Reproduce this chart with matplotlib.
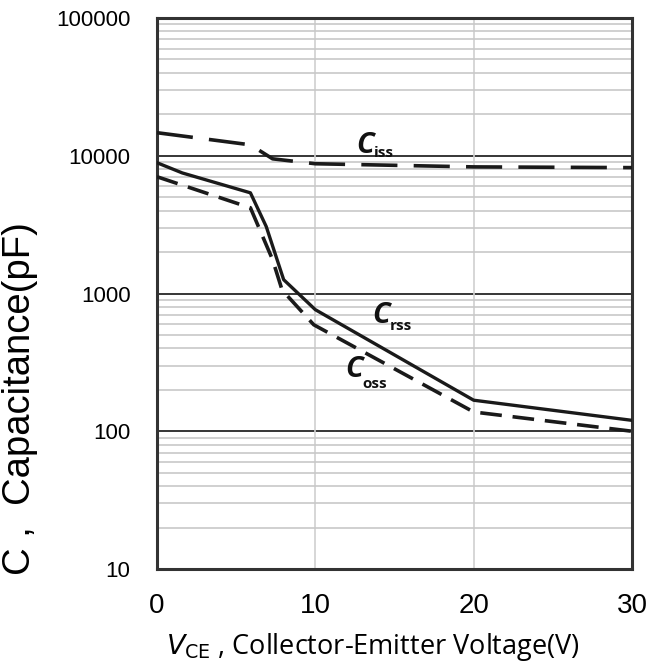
import matplotlib
matplotlib.use("Agg")
import matplotlib.pyplot as plt
from matplotlib.ticker import FixedLocator, LogLocator, NullFormatter

# Capacitance vs. collector-emitter voltage
vce_iss = [0, 5.9, 7.3, 10, 20, 30]
c_iss = [14700, 12000, 9500, 8750, 8300, 8200]

vce_rss = [0, 1.6, 5.9, 6.9, 8.0, 10, 20, 30]
c_rss = [8900, 7500, 5380, 3060, 1260, 763, 168, 120]

vce_oss = [0, 5.9, 7.3, 7.9, 9.9, 20, 30]
c_oss = [7040, 4190, 1760, 1060, 593, 138, 100]

x_ticks = [0, 10, 20, 30]
y_ticks = [10, 100, 1000, 10000, 100000]
y_ticklabels = ["10", "100", "1000", "10000", "100000"]

fig = plt.figure(figsize=(6.52, 6.64), dpi=100)
ax = fig.add_axes([157 / 652, 1 - 569 / 664, 475 / 652, 551 / 664])

ax.set_yscale("log")
ax.set_xlim(0, 30)
ax.set_ylim(10, 100000)

# grid: light minor lines, black decade lines
ax.yaxis.set_minor_locator(LogLocator(base=10, subs=range(2, 10)))
ax.yaxis.set_minor_formatter(NullFormatter())
ax.grid(which="minor", axis="y", color="#c8c8c8", lw=1.2)
ax.xaxis.set_major_locator(FixedLocator(x_ticks))
ax.grid(which="major", axis="x", color="#cfcfcf", lw=1.2)
for v in [100, 1000, 10000]:
    ax.axhline(v, color="black", lw=1.1, zorder=1.5)

ax.plot(vce_iss, c_iss, color="#1a1a1a", lw=2.6, dashes=(10, 4.5), zorder=3)
ax.plot(vce_rss, c_rss, color="#1a1a1a", lw=2.4, zorder=3)
ax.plot(vce_oss, c_oss, color="#1a1a1a", lw=2.6, dashes=(6, 3), zorder=3)

ax.set_yticks(y_ticks)
ax.set_yticklabels(y_ticklabels, fontfamily="Liberation Sans", fontsize=16)
ax.set_xticks(x_ticks)
ax.set_xticklabels([str(t) for t in x_ticks], fontfamily="Liberation Sans", fontsize=20)
ax.tick_params(which="both", length=0)
ax.tick_params(axis="y", pad=19)
ax.tick_params(axis="x", pad=17)

for s in ax.spines.values():
    s.set_color("#333333")
    s.set_linewidth(2.2)

# curve labels: italic bold C with a bold subscript
lab = dict(fontfamily="Open Sans", fontweight="bold", color="#111111", zorder=4)


def curve_label(x, y, sub, dx, dy):
    ax.text(x, y, "C", fontsize=21, fontstyle="italic", va="baseline", **lab)
    ax.annotate(sub, xy=(x, y), xytext=(dx, dy), textcoords="offset points",
                fontsize=11, va="baseline", **lab)


curve_label(12.6, 10500, "iss", 12.5, -3)
curve_label(13.6, 614, "rss", 12.5, -5)
curve_label(11.9, 249, "oss", 12.5, -8)

ax.set_xlabel(r"$\mathit{V}_{\mathrm{CE}}$ , Collector-Emitter Voltage(V)",
              fontfamily="Open Sans", fontsize=19.5)
ax.xaxis.set_label_coords(0.455, -0.112)
ax.set_ylabel("C ,  Capacitance(pF)", fontfamily="Liberation Sans", fontsize=27.5)
ax.yaxis.set_label_coords(-0.25, 0.31)

fig.savefig("out.png", dpi=100)
